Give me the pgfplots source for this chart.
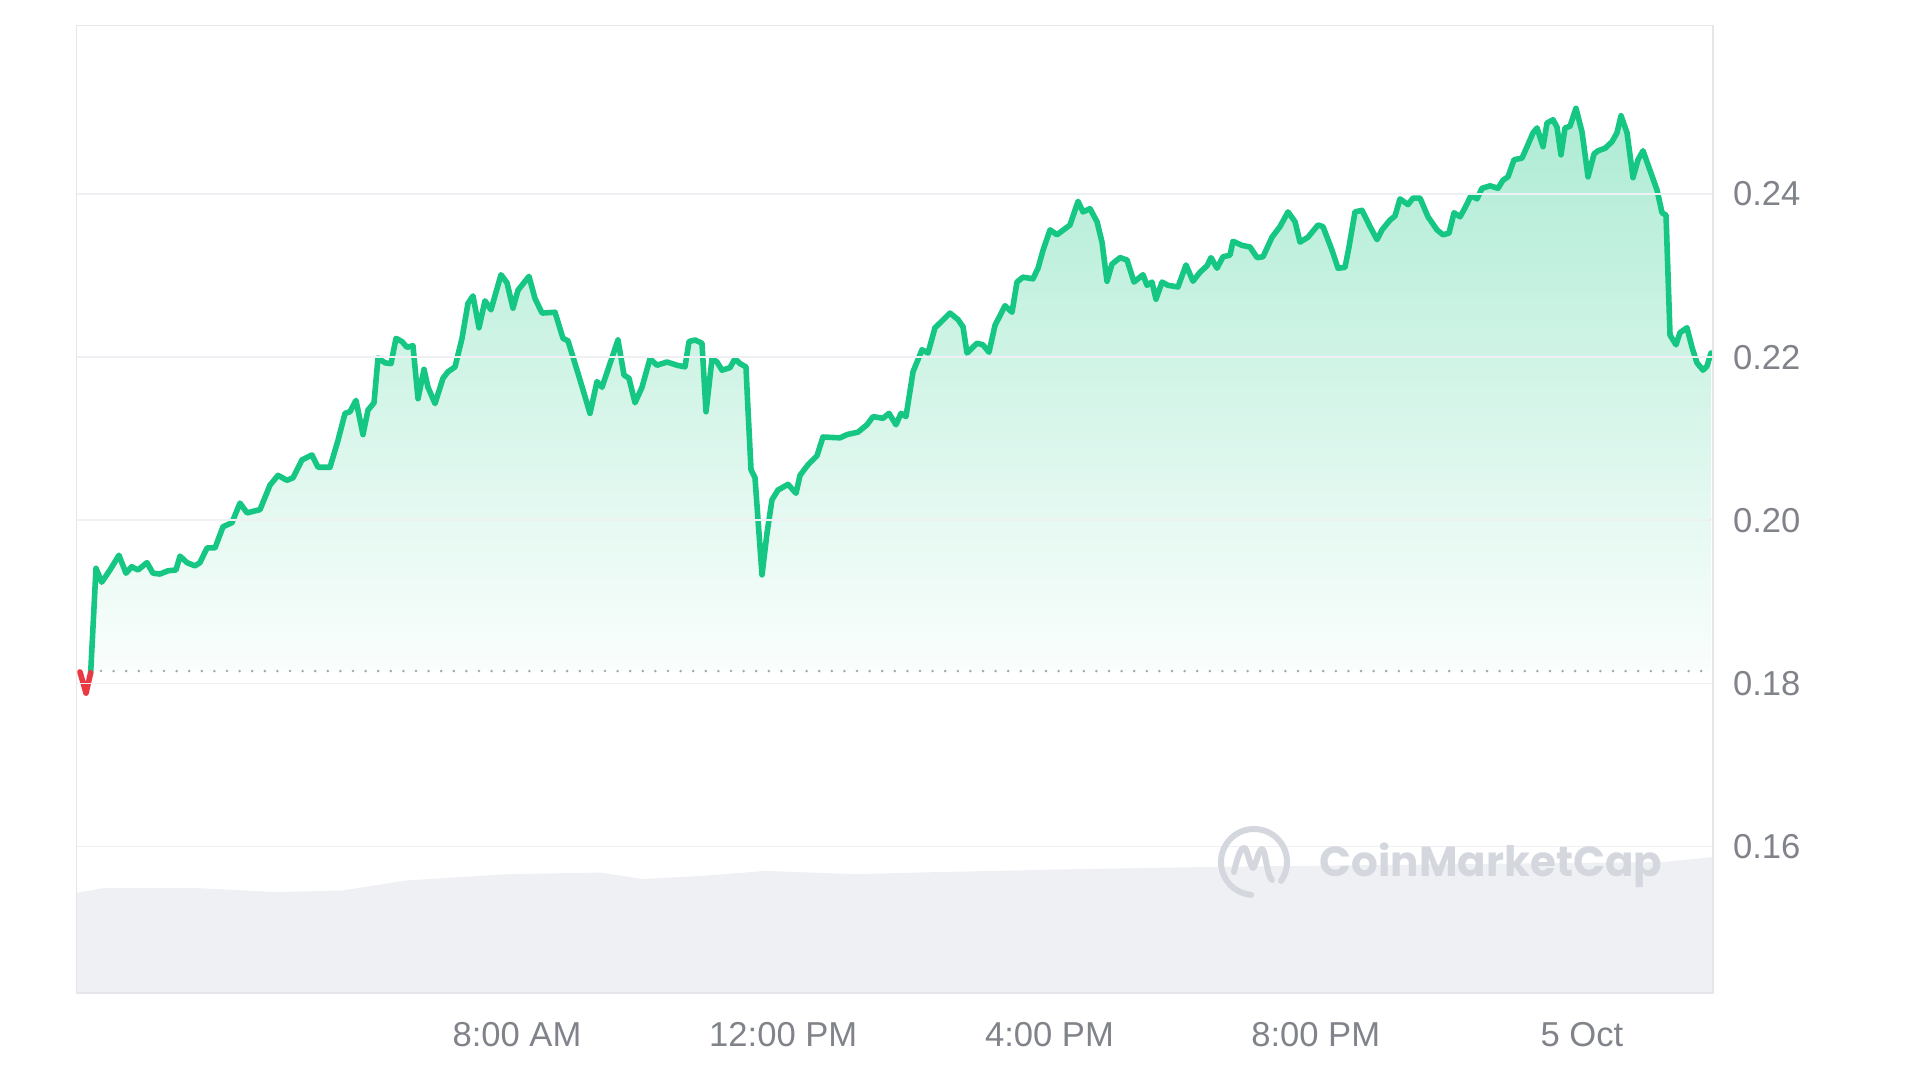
\documentclass[border=0pt]{standalone}
\usepackage{fontspec}
\setmainfont{Liberation Sans}
\newfontfamily\wmfont{Poppins}
\usepackage{pgfplots}
\usepackage{pgfplotstable}
\pgfplotsset{compat=1.18}
\definecolor{cmcgreen}{HTML}{16C784}
\definecolor{cmcred}{HTML}{EA3943}
\definecolor{labelgray}{HTML}{80838A}
\definecolor{gridgray}{HTML}{EEF0F3}
\definecolor{framegray}{HTML}{E4E6EA}
\definecolor{dotgray}{HTML}{A3A8B0}
\definecolor{volgray}{HTML}{EEF0F4}
\definecolor{wmgray}{HTML}{D4D7DD}

\pgfplotstableread{
h p
1.434 0.1814
1.525 0.1788
1.595 0.1813
}\reddata

\pgfplotstableread{
h p
1.595 0.1813
1.675 0.1941
1.761 0.1924
1.885 0.1939
2.020 0.1957
2.126 0.1935
2.211 0.1943
2.306 0.1939
2.441 0.1948
2.531 0.1935
2.636 0.1934
2.757 0.1938
2.877 0.1939
2.937 0.1956
3.042 0.1948
3.162 0.1944
3.237 0.1948
3.343 0.1966
3.463 0.1966
3.583 0.1992
3.718 0.1997
3.838 0.2021
3.944 0.2009
4.139 0.2013
4.289 0.2043
4.409 0.2055
4.544 0.2049
4.635 0.2052
4.770 0.2074
4.920 0.2080
5.010 0.2065
5.191 0.2065
5.311 0.2098
5.416 0.2131
5.491 0.2133
5.581 0.2147
5.686 0.2105
5.761 0.2135
5.852 0.2144
5.912 0.2199
6.017 0.2193
6.107 0.2192
6.182 0.2223
6.272 0.2219
6.347 0.2212
6.437 0.2214
6.513 0.2149
6.603 0.2185
6.663 0.2163
6.768 0.2143
6.888 0.2174
6.963 0.2182
7.069 0.2188
7.174 0.2223
7.264 0.2266
7.339 0.2275
7.429 0.2236
7.519 0.2269
7.609 0.2258
7.760 0.2301
7.850 0.2291
7.940 0.2260
8.015 0.2282
8.180 0.2299
8.270 0.2272
8.376 0.2254
8.571 0.2255
8.691 0.2223
8.766 0.2220
8.947 0.2172
9.097 0.2131
9.202 0.2170
9.277 0.2163
9.517 0.2221
9.608 0.2178
9.683 0.2174
9.773 0.2144
9.878 0.2163
9.998 0.2198
10.103 0.2190
10.254 0.2194
10.404 0.2190
10.524 0.2188
10.584 0.2219
10.674 0.2221
10.779 0.2217
10.840 0.2133
10.930 0.2198
11.005 0.2194
11.080 0.2184
11.200 0.2187
11.275 0.2198
11.350 0.2192
11.440 0.2188
11.471 0.2135
11.516 0.2062
11.576 0.2052
11.681 0.1933
11.756 0.1984
11.831 0.2025
11.921 0.2037
12.072 0.2044
12.192 0.2033
12.252 0.2055
12.372 0.2068
12.507 0.2079
12.597 0.2102
12.853 0.2101
12.958 0.2105
13.123 0.2108
13.258 0.2117
13.349 0.2127
13.499 0.2125
13.589 0.2131
13.694 0.2117
13.769 0.2131
13.844 0.2127
13.950 0.2182
14.085 0.2209
14.175 0.2205
14.280 0.2236
14.370 0.2243
14.505 0.2254
14.626 0.2246
14.701 0.2237
14.761 0.2205
14.911 0.2217
15.001 0.2215
15.091 0.2206
15.182 0.2239
15.332 0.2263
15.437 0.2255
15.512 0.2292
15.602 0.2298
15.752 0.2296
15.828 0.2309
15.903 0.2331
16.008 0.2356
16.113 0.2350
16.308 0.2362
16.429 0.2391
16.504 0.2378
16.609 0.2382
16.714 0.2366
16.789 0.2341
16.864 0.2293
16.939 0.2314
17.060 0.2322
17.165 0.2319
17.270 0.2292
17.405 0.2301
17.465 0.2288
17.540 0.2292
17.600 0.2271
17.691 0.2292
17.781 0.2288
17.931 0.2286
18.051 0.2313
18.156 0.2293
18.261 0.2304
18.367 0.2312
18.427 0.2322
18.517 0.2309
18.607 0.2323
18.712 0.2325
18.757 0.2342
18.892 0.2337
19.013 0.2335
19.118 0.2322
19.208 0.2323
19.343 0.2347
19.463 0.2360
19.584 0.2378
19.689 0.2366
19.764 0.2341
19.884 0.2347
20.034 0.2362
20.109 0.2360
20.245 0.2331
20.335 0.2309
20.440 0.2310
20.500 0.2335
20.590 0.2378
20.695 0.2380
20.816 0.2360
20.921 0.2344
20.996 0.2356
21.116 0.2368
21.191 0.2373
21.266 0.2394
21.386 0.2387
21.462 0.2395
21.567 0.2395
21.687 0.2372
21.822 0.2356
21.912 0.2350
22.002 0.2352
22.078 0.2377
22.168 0.2372
22.243 0.2383
22.333 0.2398
22.423 0.2394
22.498 0.2407
22.619 0.2410
22.739 0.2407
22.814 0.2417
22.889 0.2421
22.979 0.2442
23.099 0.2444
23.175 0.2458
23.265 0.2475
23.325 0.2481
23.415 0.2458
23.475 0.2487
23.565 0.2491
23.625 0.2482
23.685 0.2448
23.745 0.2481
23.820 0.2483
23.910 0.2505
24.001 0.2476
24.091 0.2421
24.181 0.2449
24.241 0.2453
24.346 0.2456
24.451 0.2464
24.526 0.2475
24.587 0.2496
24.677 0.2475
24.767 0.2420
24.842 0.2442
24.917 0.2453
25.022 0.2429
25.127 0.2405
25.203 0.2377
25.263 0.2374
25.323 0.2227
25.413 0.2215
25.473 0.2230
25.578 0.2236
25.653 0.2212
25.728 0.2193
25.818 0.2184
25.878 0.2189
25.938 0.2205
}\greendata

\pgfplotstableread{
h v
1.382 0.1543
1.795 0.1549
3.177 0.1549
4.379 0.1544
5.386 0.1546
6.302 0.1558
7.865 0.1566
9.247 0.1568
9.893 0.1560
10.810 0.1564
11.726 0.1570
13.108 0.1566
14.025 0.1568
16.308 0.1572
18.517 0.1575
25.233 0.1581
25.969 0.1587
}\voldata

\begin{document}
\begin{tikzpicture}
\useasboundingbox (0,0) rectangle (960pt,540pt);
\begin{axis}[
  at={(38.25pt,43.5pt)}, anchor=south west,
  width=818.25pt, height=483.75pt, scale only axis,
  xmin=1.382, xmax=25.969, ymin=0.14203, ymax=0.26066,
  axis on top,
  axis line style={draw=framegray, line width=0.8pt},
  xtick={8,12,16,20,24},
  xticklabels={8:00 AM,12:00 PM,4:00 PM,8:00 PM,5 Oct},
  ytick={0.16,0.18,0.20,0.22,0.24},
  yticklabels={0.16,0.18,0.20,0.22,0.24},
  yticklabel pos=right,
  ymajorgrids,
  grid style={draw=gridgray, line width=0.8pt},
  major tick length=0pt,
  tick label style={font=\fontsize{17.3}{20}\selectfont, text=labelgray},
  xticklabel style={yshift=-11pt},
  yticklabel style={anchor=west, xshift=6.5pt},
]
\addplot[draw=none, fill=volgray] table[x=h, y=v] {\voldata} \closedcycle;
\addplot[draw=none, top color=cmcgreen!35!white, bottom color=cmcgreen!2!white]
  table[x=h, y=p] {\greendata} |- (axis cs:1.595,0.1815) -- cycle;
\addplot[draw=dotgray, line width=1.4pt, line cap=round, dash pattern=on 0pt off 6.3pt]
  coordinates {(1.75,0.1815) (25.969,0.1815)};
\addplot[draw=cmcgreen, line width=2.8pt, line join=round, line cap=round]
  table[x=h, y=p] {\greendata};
\addplot[draw=cmcred, line width=2.8pt, line join=round, line cap=round]
  table[x=h, y=p] {\reddata};
\end{axis}
% CoinMarketCap watermark
\begin{scope}[shift={(627pt,109pt)}, draw=wmgray, line width=3pt, line cap=round, line join=round]
  \draw (-35:16.5pt) arc[start angle=-35, end angle=265, radius=16.5pt];
  \draw (-10pt,-5pt) .. controls (-8pt,4pt) and (-6pt,8pt) .. (-4.5pt,7pt)
        .. controls (-3pt,5pt) and (-2pt,-2pt) .. (-0.5pt,-3pt)
        .. controls (1pt,-2pt) and (2pt,6pt) .. (4pt,6.5pt)
        .. controls (6pt,6pt) and (6pt,-6pt) .. (9pt,-9pt);
\end{scope}
\node[text=wmgray, font={\wmfont\bfseries\fontsize{21}{24}\selectfont}, anchor=center] at (745.5pt,107.5pt) {CoinMarketCap};
\end{tikzpicture}
\end{document}
